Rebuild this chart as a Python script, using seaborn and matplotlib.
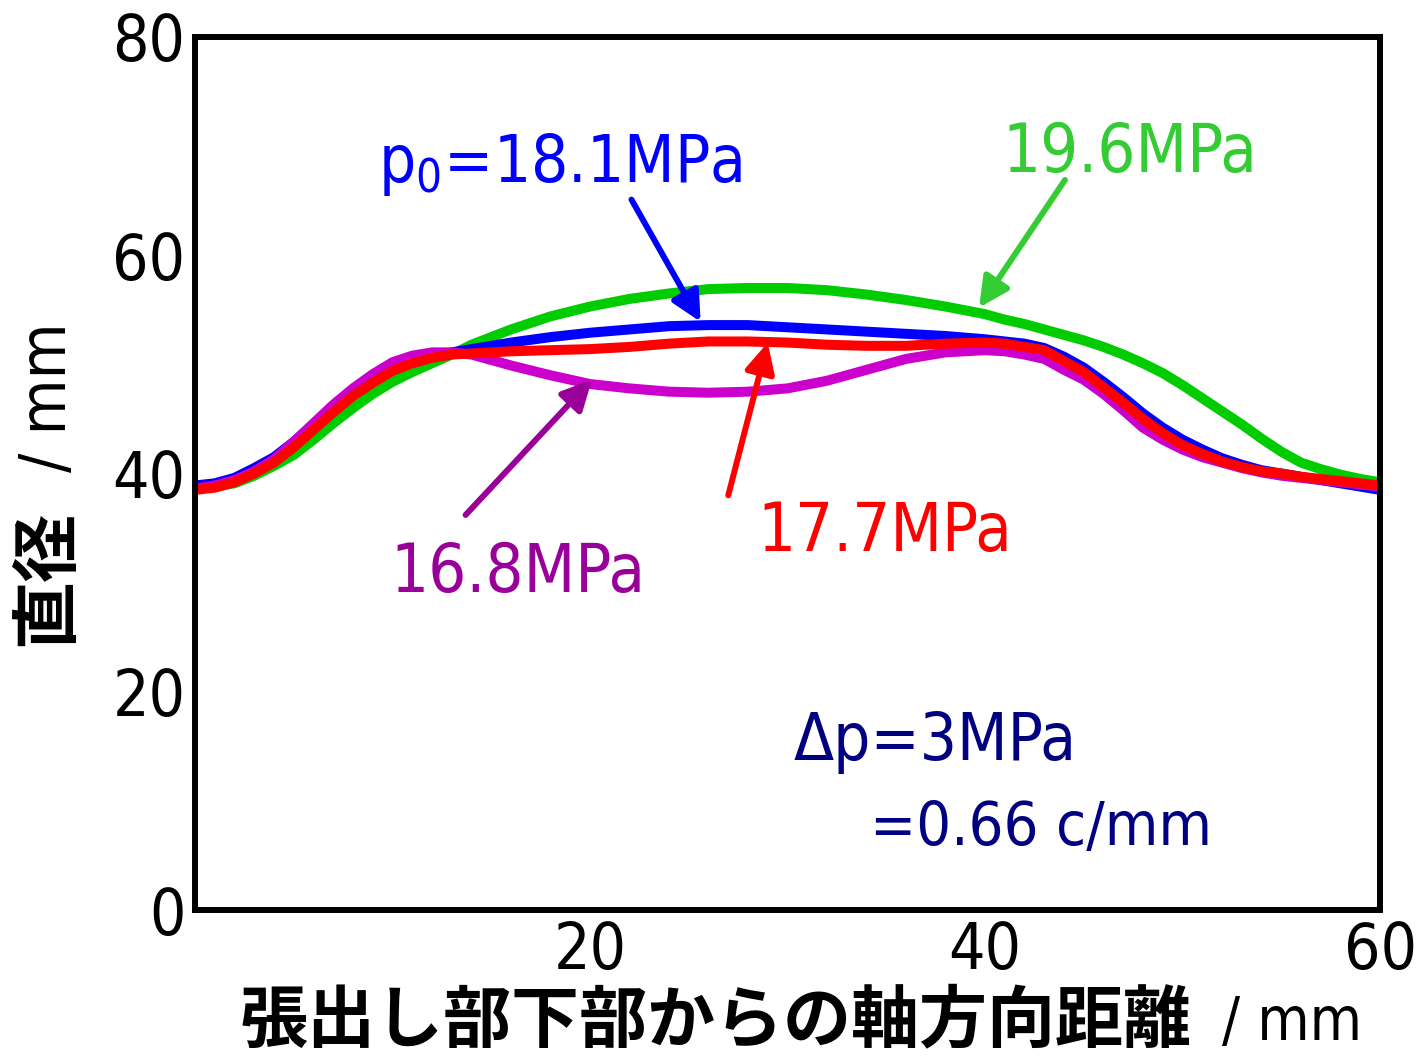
import numpy as np
import pandas as pd
import seaborn as sns
import matplotlib
matplotlib.use("Agg")
import matplotlib.pyplot as plt
from matplotlib import font_manager as fm

sns.set_theme(style="white")

# pick a narrow latin font if one is installed
entries = fm.fontManager.ttflist
if any(f.name == 'Liberation Sans Narrow' for f in entries):
    latin, stretch = 'Liberation Sans Narrow', 'normal'
elif any(f.name == 'DejaVu Sans' and f.stretch == 'condensed' for f in entries):
    latin, stretch = 'DejaVu Sans', 'condensed'
else:
    latin, stretch = 'Liberation Sans', 'normal'
plt.rcParams['font.family'] = [latin, 'DejaVu Sans']
plt.rcParams['font.stretch'] = stretch
plt.rcParams['text.color'] = 'black'

# axial distance from lower end of bulge (mm)
dist = [0, 1, 2, 3, 4, 5, 6, 7, 8, 9, 10, 11, 12, 13, 14,
        16, 18, 20, 22, 24, 26, 28, 30, 32, 34, 36, 38, 40,
        41, 42, 43, 44, 45, 46, 47, 48, 49, 50, 51, 52, 53, 54, 55, 56, 57, 58, 59, 60]

# diameter (mm) for each initial pressure p0
d_196 = [38.6, 38.8, 39.1, 39.8, 40.7, 41.7, 43.1, 44.6, 46.0, 47.3, 48.4, 49.3, 50.1, 50.9, 51.8,
         53.2, 54.4, 55.3, 56.0, 56.5, 56.9, 57.0, 57.0, 56.8, 56.4, 55.9, 55.3, 54.6,
         54.1, 53.7, 53.2, 52.7, 52.2, 51.6, 50.9, 50.1, 49.2, 48.1, 46.9, 45.7, 44.5, 43.2, 42.0,
         41.0, 40.4, 39.9, 39.5, 39.2]
d_181 = [38.9, 39.1, 39.6, 40.5, 41.5, 42.9, 44.5, 46.1, 47.5, 48.8, 49.8, 50.4, 50.8, 51.1, 51.4,
         52.0, 52.5, 52.9, 53.2, 53.5, 53.6, 53.6, 53.4, 53.2, 53.0, 52.8, 52.6, 52.3,
         52.1, 51.9, 51.5, 50.7, 49.7, 48.4, 47.0, 45.5, 44.2, 43.1, 42.2, 41.4, 40.8, 40.3, 40.0,
         39.7, 39.4, 39.1, 38.8, 38.5]
d_168 = [38.6, 38.9, 39.4, 40.2, 41.3, 42.9, 44.6, 46.3, 47.8, 49.1, 50.2, 50.8, 51.1, 51.1, 50.9,
         49.9, 49.0, 48.2, 47.8, 47.5, 47.4, 47.5, 47.8, 48.5, 49.5, 50.5, 51.1, 51.3,
         51.2, 50.9, 50.5, 49.5, 48.6, 47.3, 45.8, 44.2, 43.1, 42.2, 41.5, 41.0, 40.5, 40.1, 39.8,
         39.6, 39.4, 39.2, 39.0, 38.8]
d_177 = [38.5, 38.7, 39.2, 40.0, 41.0, 42.4, 44.0, 45.6, 47.1, 48.3, 49.4, 50.1, 50.6, 50.9, 51.0,
         51.2, 51.3, 51.4, 51.6, 51.9, 52.1, 52.1, 52.0, 51.8, 51.7, 51.7, 51.9, 52.0,
         51.9, 51.6, 51.3, 50.3, 49.3, 47.9, 46.5, 45.0, 43.7, 42.6, 41.8, 41.1, 40.6, 40.2, 40.0,
         39.7, 39.5, 39.3, 39.1, 38.9]

series = ['19.6', '18.1', '16.8', '17.7']
line_colors = {'19.6': '#00CC00', '18.1': '#0000FF', '16.8': '#CC00CC', '17.7': '#FF0000'}

df = pd.concat([
    pd.DataFrame({'dist': dist, 'diam': d, 'p0': s})
    for s, d in zip(series, [d_196, d_181, d_168, d_177])
])

fig = plt.figure(figsize=(14.17, 10.59), dpi=100)
ax = fig.add_axes([195 / 1417, 1 - 910 / 1059, (1380 - 195) / 1417, (910 - 37) / 1059])

sns.lineplot(data=df, x='dist', y='diam', hue='p0', hue_order=series, palette=line_colors,
             estimator=None, sort=False, lw=7.2, legend=False, ax=ax)

ax.set_xlim(0, 60)
ax.set_ylim(0, 80)
ax.set_xticks([20, 40, 60])
ax.set_yticks([0, 20, 40, 60, 80])
ax.tick_params(direction='in', length=32, width=3.6, color='black', labelcolor='black',
               labelsize=46, pad=7)
for sp in ax.spines.values():
    sp.set_linewidth(4.3)
    sp.set_color('black')
ax.set_xlabel('')
ax.set_ylabel('')

fs = 48
# labels and arrows
ax.text(9.27, 66.7, r'p$_\mathregular{0}$=18.1MPa', color='#0000FF', fontsize=47)
ax.text(40.9, 67.6, '19.6MPa', color='#33CC33', fontsize=fs)
ax.text(9.87, 29.1, '16.8MPa', color='#990099', fontsize=fs)
ax.text(28.5, 32.9, '17.7MPa', color='#FF0000', fontsize=fs)
ax.text(30.3, 13.7, 'Δp=3MPa', color='#000080', fontsize=47)
ax.text(34.2, 6.0, '=0.66 c/mm', color='#000080', fontsize=44)

arrows = [((22.1, 65.1), (25.6, 53.9), '#0000FF'),
          ((44.05, 66.9), (39.7, 55.2), '#33CC33'),
          ((13.7, 36.2), (20.1, 48.6), '#990099'),
          ((27.0, 38.0), (29.0, 52.0), '#FF0000')]
for start, end, c in arrows:
    ax.annotate('', xy=end, xytext=start,
                arrowprops=dict(arrowstyle='-|>', color=c, lw=4.3, mutation_scale=45,
                                shrinkA=0, shrinkB=0))

# axis titles
cjk = ['Noto Sans CJK JP', 'DejaVu Sans']
fig.text(240 / 1417, 1 - 1022 / 1059, '張出し部下部からの軸方向距離', family=cjk, fontweight='bold',
         fontsize=49, ha='left', va='center')
fig.text(1222 / 1417, 1 - 1024 / 1059, '/ mm', fontsize=43, ha='left', va='center')
fig.text(48 / 1417, 1 - 578 / 1059, '直径', family=cjk, fontweight='bold', fontsize=49,
         rotation=90, ha='center', va='center')
fig.text(48 / 1417, 1 - 397 / 1059, '/ mm', fontsize=46, rotation=90, ha='center', va='center')

fig.savefig('out.png', dpi=100)
